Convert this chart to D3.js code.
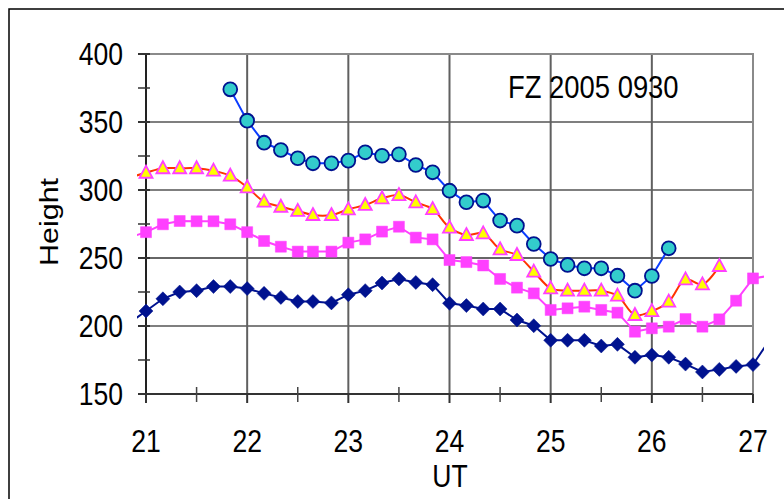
<!DOCTYPE html>
<html>
<head>
<meta charset="utf-8">
<script src="https://cdn.jsdelivr.net/npm/d3@7"></script>
<style>
  body { margin: 0; background: #fff; }
  text { font-family: "Liberation Sans", Arial, sans-serif; fill: #000; }
</style>
</head>
<body>
<div id="chart"></div>
<script>
// UT (day of month) for every sample
var times = [20.833, 21, 21.167, 21.333, 21.5, 21.667, 21.833, 22, 22.167, 22.333, 22.5, 22.65, 22.833,
    23, 23.167, 23.333, 23.5, 23.667, 23.833, 24, 24.167, 24.333, 24.5, 24.667, 24.833,
    25, 25.167, 25.333, 25.5, 25.66, 25.833, 26, 26.167, 26.333, 26.5, 26.667, 26.833, 27, 27.167];

var heightDiamond = [202, 211, 220, 225, 226, 229, 229, 227.5, 224, 221, 218, 218, 217,
    223, 226, 231.6, 234.6, 232, 230.4, 216.7, 215, 212.5, 212.5, 204.4, 200.2,
    189.5, 189.5, 189.5, 185.3, 186.5, 177, 178.7, 177, 172, 166.2, 168.1, 170.3, 171.6, 190];

var heightSquare = [265, 269, 274.8, 277.2, 277, 277, 274.8, 269, 262.5, 258.3, 254.7, 254.7, 254.7,
    261.3, 263.7, 269.4, 273, 265, 263.7, 248.5, 247, 244.5, 234.6, 228.2, 224,
    211.8, 213, 214.2, 211.8, 209.8, 195.8, 198.3, 199.5, 205.1, 199.5, 204.9, 218.6, 235, 237];

var heightTriangle = [309, 312.7, 316, 316, 316, 314.2, 310.5, 302, 291.4, 287.7, 284.6, 281.6, 281.6,
    285.8, 289, 293.9, 296.3, 290.9, 286, 272.3, 266.9, 268.1, 256.4, 252.2, 240,
    227.7, 226, 226, 226, 222.3, 208.1, 211, 217.9, 234.3, 230.6, 244.1, null, null, null];

var heightCircle = [null, null, null, null, null, null, 374, 351, 334.8, 329.4, 323.3, 319.6, 319.6,
    321.6, 327.7, 325.2, 326.2, 318.4, 313, 299.5, 291, 292.2, 277.5, 273.8, 260.3,
    249.3, 244.9, 242.4, 242.4, 237, 226, 236.8, 257.1, null, null, null, null, null, null];

var xTicks = [21, 22, 23, 24, 25, 26, 27];
var yTicks = [150, 200, 250, 300, 350, 400];
var title = 'FZ 2005 0930';

var width = 784, height = 499;
var plotLeft = 146, plotRight = 753, plotTop = 54, plotBottom = 394;

var x = d3.scaleLinear().domain([21, 27]).range([plotLeft, plotRight]);
var y = d3.scaleLinear().domain([150, 400]).range([plotBottom, plotTop]);

var svg = d3.select('#chart').append('svg')
    .attr('width', width)
    .attr('height', height);

// outer chart frame (runs past the right and bottom edges)
svg.append('rect')
    .attr('x', 9).attr('y', 9)
    .attr('width', 800).attr('height', 520)
    .attr('fill', 'none')
    .attr('stroke', '#000')
    .attr('stroke-width', 1.5);

// grid
svg.append('g').selectAll('line')
    .data(yTicks.filter(d => d > 150 && d < 400))
    .enter().append('line')
    .attr('x1', plotLeft).attr('x2', plotRight)
    .attr('y1', d => y(d)).attr('y2', d => y(d))
    .attr('stroke', d => d === 250 ? '#666' : '#000')
    .attr('stroke-width', d => d === 250 ? 2 : 1.2);

svg.append('g').selectAll('line')
    .data(xTicks.filter(d => d > 21 && d < 27))
    .enter().append('line')
    .attr('x1', d => x(d)).attr('x2', d => x(d))
    .attr('y1', plotTop).attr('y2', plotBottom)
    .attr('stroke', '#606060')
    .attr('stroke-width', 2);

// plot frame top / right
svg.append('path')
    .attr('d', 'M' + plotLeft + ',' + plotTop + 'H' + plotRight + 'V' + plotBottom)
    .attr('fill', 'none')
    .attr('stroke', '#8a8a8a')
    .attr('stroke-width', 2);

// y axis
var yAxis = svg.append('g');
yAxis.append('line')
    .attr('x1', plotLeft).attr('x2', plotLeft).attr('y1', plotTop).attr('y2', plotBottom)
    .attr('stroke', '#222').attr('stroke-width', 2);
yAxis.selectAll('.ytick')
    .data(d3.range(150, 401, 25))
    .enter().append('line')
    .attr('x1', plotLeft - 8).attr('x2', plotLeft + 4)
    .attr('y1', d => y(d)).attr('y2', d => y(d))
    .attr('stroke', '#333').attr('stroke-width', d => d % 50 === 0 ? 2 : 1.5);
yAxis.selectAll('text')
    .data(yTicks)
    .enter().append('text')
    .attr('transform', d => 'translate(123,' + (y(d) + 11) + ') scale(0.87,1)')
    .attr('text-anchor', 'end')
    .style('font-size', '30.5px')
    .text(d => d);

// x axis
var xAxis = svg.append('g');
xAxis.append('line')
    .attr('x1', plotLeft).attr('x2', plotRight).attr('y1', plotBottom).attr('y2', plotBottom)
    .attr('stroke', '#333').attr('stroke-width', 2);
xAxis.selectAll('.xmajor')
    .data(xTicks)
    .enter().append('line')
    .attr('x1', d => x(d)).attr('x2', d => x(d))
    .attr('y1', plotBottom).attr('y2', plotBottom + 9)
    .attr('stroke', '#333').attr('stroke-width', 2);
xAxis.selectAll('.xminor')
    .data(xTicks.slice(0, -1).map(d => d + 0.5))
    .enter().append('line')
    .attr('x1', d => x(d)).attr('x2', d => x(d))
    .attr('y1', plotBottom - 7).attr('y2', plotBottom + 8)
    .attr('stroke', '#444').attr('stroke-width', 1.5);
xAxis.selectAll('text')
    .data(xTicks)
    .enter().append('text')
    .attr('transform', d => 'translate(' + x(d) + ',452) scale(0.87,1)')
    .attr('text-anchor', 'middle')
    .style('font-size', '30.5px')
    .text(d => d);

// axis titles and label
svg.append('text')
    .attr('transform', 'translate(450,487) scale(0.87,1)')
    .attr('text-anchor', 'middle')
    .style('font-size', '30.5px')
    .text('UT');

svg.append('text')
    .attr('transform', 'translate(58,222) rotate(-90) scale(1,0.87)')
    .attr('text-anchor', 'middle')
    .style('font-size', '30.5px')
    .text('Height');

svg.append('text')
    .attr('transform', 'translate(508,98) scale(0.87,1)')
    .style('font-size', '31.5px')
    .text(title);

// series
svg.append('clipPath').attr('id', 'clip')
    .append('rect')
    .attr('x', 137).attr('y', 40)
    .attr('width', 627).attr('height', 370);

var plot = svg.append('g').attr('clip-path', 'url(#clip)');

function points(values) {
    return values.map((v, i) => ({t: times[i], v: v})).filter(d => d.v !== null);
}

function drawSeries(values, lineColor, curve, marker) {
    var data = points(values);
    var line = d3.line().x(d => x(d.t)).y(d => y(d.v)).curve(curve);
    plot.append('path')
        .datum(data)
        .attr('d', line)
        .attr('fill', 'none')
        .attr('stroke', lineColor)
        .attr('stroke-width', 2);
    // markers outside the axis range are not drawn, only the connecting line
    plot.append('g').selectAll('path')
        .data(data.filter(d => d.t >= 21 && d.t <= 27))
        .enter().append('path')
        .attr('transform', d => 'translate(' + x(d.t) + ',' + y(d.v) + ')')
        .attr('d', marker.shape)
        .attr('fill', marker.fill)
        .attr('stroke', marker.stroke)
        .attr('stroke-width', marker.strokeWidth);
}

drawSeries(heightDiamond, '#00128f', d3.curveLinear, {
    shape: 'M0,-7L7,0L0,7L-7,0Z', fill: '#00128f', stroke: '#00128f', strokeWidth: 0.5
});
drawSeries(heightSquare, '#ff40ff', d3.curveLinear, {
    shape: 'M-5.5,-5.5H5.5V5.5H-5.5Z', fill: '#ff40ff', stroke: '#ff40ff', strokeWidth: 0.5
});
drawSeries(heightTriangle, '#ff3300', d3.curveCatmullRom, {
    shape: 'M0,-7L6.5,5L-6.5,5Z', fill: '#ffff00', stroke: '#ff40ff', strokeWidth: 1.8
});
drawSeries(heightCircle, '#0a3cff', d3.curveLinear, {
    shape: d3.symbol().type(d3.symbolCircle).size(150)(), fill: '#33cccc', stroke: '#00128f', strokeWidth: 1.8
});
</script>
</body>
</html>
